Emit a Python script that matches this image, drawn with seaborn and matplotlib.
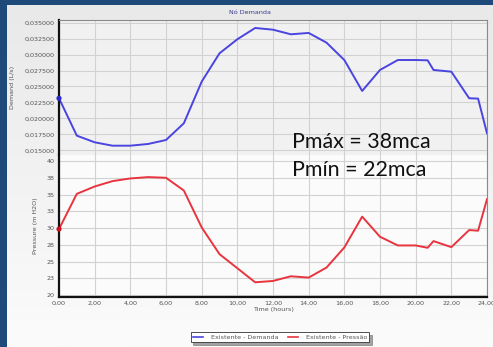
import numpy as np
import pandas as pd
import matplotlib
matplotlib.use("Agg")
import matplotlib.pyplot as plt
import seaborn as sns
from matplotlib.ticker import FuncFormatter, MultipleLocator
from matplotlib.lines import Line2D
from matplotlib.colors import LinearSegmentedColormap

# ---- data ----
hours = [0, 1, 2, 3, 4, 5, 6, 7, 8, 9, 10, 11, 12, 13, 14, 15, 16, 17, 18, 19, 20,
         20.67, 21, 22, 23, 23.5, 24]
demand = [0.02315, 0.01729, 0.01625, 0.01572, 0.01572, 0.01599, 0.01661, 0.01923,
          0.02575, 0.0302, 0.0324, 0.03417, 0.0339, 0.03318, 0.03339, 0.03187,
          0.02915, 0.0243, 0.02759, 0.02915, 0.02915, 0.02910, 0.02759, 0.02732,
          0.02315, 0.0231, 0.01766]
pressure = [29.85, 35.1, 36.2, 37.0, 37.4, 37.6, 37.5, 35.6, 30.1, 26.1, 24.0, 21.9,
            22.1, 22.8, 22.6, 24.1, 27.1, 31.7, 28.7, 27.4, 27.4, 27.05, 28.05, 27.15,
            29.7, 29.6, 34.3]
title = "Nó Demanda"
label_dem = "Existente - Demanda"
label_pre = "Existente - Pressão"
note_max = "Pmáx = 38mca"
note_min = "Pmín = 22mca"

df = pd.DataFrame({"h": hours, "d": demand, "p": pressure})

W, H = 493, 347
fig = plt.figure(figsize=(W / 100, H / 100), dpi=100)
fig.patch.set_facecolor("#1d4a78")

# panel background with a soft vertical gradient
bg = fig.add_axes([7 / W, 0, 1 - 7 / W, 1 - 5 / H], zorder=-10)
grad = np.linspace(0, 1, 256).reshape(-1, 1)
cmap = LinearSegmentedColormap.from_list("g", ["#e9e9e9", "#fbfbfb"])
bg.imshow(grad, aspect="auto", cmap=cmap, extent=[0, 1, 0, 1])
bg.set_axis_off()

def fx(px):
    return px / W

def fy(py):
    return 1 - py / H

left, right = fx(59), fx(487)
top, mid, bot = fy(20), fy(155), fy(296.7)
ax1 = fig.add_axes([left, mid, right - left, top - mid])
ax2 = fig.add_axes([left, bot, right - left, mid - bot], sharex=ax1)

ax1.set_facecolor("#f1f1f1")
ax2.set_facecolor("#fbfbfb")

blue = "#4a44e0"
red = "#e8343e"
sns.lineplot(data=df, x="h", y="d", ax=ax1, color=blue, lw=1.4, legend=False)
sns.lineplot(data=df, x="h", y="p", ax=ax2, color=red, lw=1.4, legend=False)
sns.scatterplot(data=df.iloc[:1], x="h", y="d", ax=ax1, color="#2a2acc", s=14,
                edgecolor="none", zorder=5, legend=False, clip_on=False)
sns.scatterplot(data=df.iloc[:1], x="h", y="p", ax=ax2, color="#cc1020", s=14,
                edgecolor="none", zorder=5, legend=False, clip_on=False)

ax1.set_xlim(0, 24)
ax1.yaxis.set_major_locator(MultipleLocator(0.0025))
ax2.yaxis.set_major_locator(MultipleLocator(2.5))
ax2.xaxis.set_major_locator(MultipleLocator(2))
ax1.yaxis.set_major_formatter(FuncFormatter(lambda v, p: f"{v:.6f}".replace(".", ",")))
ax2.yaxis.set_major_formatter(FuncFormatter(lambda v, p: f"{int(np.floor(v + 0.5))}"))
ax2.xaxis.set_major_formatter(FuncFormatter(lambda v, p: f"{v:.2f}".replace(".", ",")))
ax1.set_ylim(0.01426, 0.03542)
ax2.set_ylim(19.75, 40.9)

tick_col = "#555555"
for ax in (ax1, ax2):
    ax.grid(True, color="#d2d2d2", lw=0.8)
    ax.set_axisbelow(True)
    ax.tick_params(length=0, labelsize=4.6, labelcolor=tick_col, pad=3)
    for s in ("top", "right", "bottom", "left"):
        ax.spines[s].set_visible(False)
ax1.tick_params(axis="x", labelbottom=False)

def spine(ax, name, color, lw):
    ax.spines[name].set_visible(True)
    ax.spines[name].set_color(color)
    ax.spines[name].set_linewidth(lw)

spine(ax1, "left", "#111111", 1.6)
spine(ax1, "top", "#8a8a8a", 0.8)
spine(ax1, "right", "#8a8a8a", 0.8)
spine(ax2, "left", "#111111", 1.6)
spine(ax2, "bottom", "#111111", 1.6)
spine(ax2, "right", "#8a8a8a", 0.8)

ax1.set_xlabel("")
ax1.set_ylabel("Demand (L/s)", fontsize=4.6, color=tick_col)
ax2.set_ylabel("Pressure (m H2O)", fontsize=4.6, color=tick_col)
ax2.set_xlabel("Time (hours)", fontsize=4.6, color=tick_col, labelpad=1)
ax1.yaxis.set_label_coords(-(59 - 15) / 428, 0.5)
ax2.yaxis.set_label_coords(-(59 - 38) / 428, 0.5)

fig.text(fx(250), fy(12.7), title, fontsize=4.6, color="#3a3a90", ha="center", va="center")

fig.text(fx(292), fy(142), note_max, fontsize=15.4, family="Lato", ha="left", va="center",
         color="#111111")
fig.text(fx(292), fy(170), note_min, fontsize=15.4, family="Lato", ha="left", va="center",
         color="#111111")

handles = [Line2D([], [], color=blue, lw=1.2), Line2D([], [], color=red, lw=1.2)]
leg = fig.legend(handles, [label_dem, label_pre], loc="center", ncol=2,
                 bbox_to_anchor=(fx(280), fy(337)), fontsize=4.6, frameon=True,
                 fancybox=False, shadow=True, handlelength=1.6, columnspacing=1.5,
                 borderpad=0.35, handletextpad=1.2)
leg.get_frame().set_edgecolor("#333333")
leg.get_frame().set_linewidth(0.6)
for t in leg.get_texts():
    t.set_color(tick_col)

fig.savefig("out.png", dpi=100)
